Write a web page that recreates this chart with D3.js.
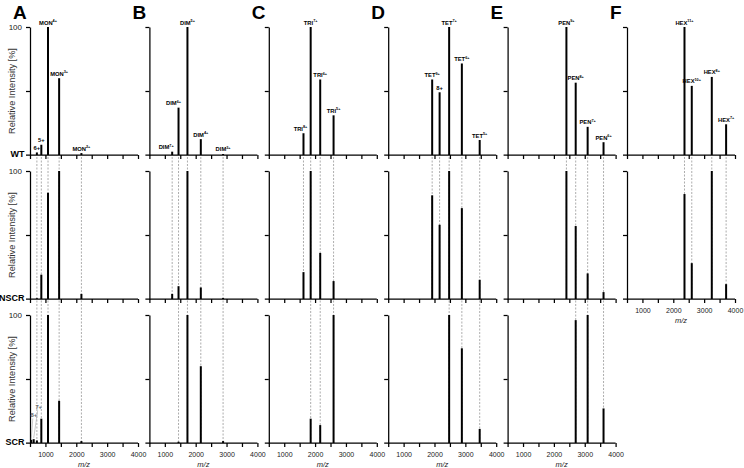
<!DOCTYPE html>
<html>
<head>
<meta charset="utf-8">
<script src="https://cdnjs.cloudflare.com/ajax/libs/d3/7.8.5/d3.min.js"></script>
<style>
  body { margin: 0; background: #fff; }
  svg { font-family: "Liberation Sans", Arial, sans-serif; }
</style>
</head>
<body>
<div id="chart"></div>
<script>
// peak positions (m/z) and relative intensities per sample
const rowNames = ['WT', 'NSCR', 'SCR']
const mzTicks = [500, 1000, 1500, 2000, 2500, 3000, 3500, 4000]

const monLabels = ['8+', '7+', '6+', '5+', 'MON|4+', 'MON|3+', 'MON|2+']
const monMz = [542, 620, 723, 867, 1084, 1444, 2166]
const monWT = [0, 0, 2, 8, 100, 60, 1.5]
const monNSCR = [0, 0, 0.6, 19, 83, 100, 4]
const monSCR = [2.5, 3, 2, 19, 100, 33, 1.5]

const dimLabels = ['DIM|7+', 'DIM|6+', 'DIM|5+', 'DIM|4+', 'DIM|3+']
const dimMz = [1238, 1444, 1733, 2166, 2888]
const dimWT = [2.6, 37, 100, 12.4, 0.8]
const dimNSCR = [4, 10, 100, 9, 0.8]
const dimSCR = [0, 1, 100, 60, 1.5]

const triLabels = ['TRI|8+', 'TRI|7+', 'TRI|6+', 'TRI|5+']
const triMz = [1624, 1857, 2166, 2599]
const triWT = [17, 100, 59, 31]
const triNSCR = [21, 100, 36, 14]
const triSCR = [0, 19, 14, 100]

const tetLabels = ['TET|9+', '8+', 'TET|7+', 'TET|6+', 'TET|5+']
const tetMz = [1925, 2166, 2475, 2887, 3465]
const tetWT = [59, 49, 100, 71.5, 11.7]
const tetNSCR = [81, 58, 100, 71, 15]
const tetSCR = [0, 0, 100, 74, 11]

const penLabels = ['PEN|9+', 'PEN|8+', 'PEN|7+', 'PEN|6+']
const penMz = [2406, 2707, 3094, 3609]
const penWT = [100, 56.5, 22, 10]
const penNSCR = [100, 57, 20, 5.4]
const penSCR = [0, 96, 100, 27]

const hexLabels = ['HEX|11+', 'HEX|10+', 'HEX|8+', 'HEX|7+']
const hexMz = [2363, 2599, 3248, 3712]
const hexWT = [100, 54, 61, 24]
const hexNSCR = [82, 28, 100, 11.6]

// grey side notes on the SCR monomer panel
const scrNotes = ['8+', '7+']

const panels = [
  {letter: 'A', labels: monLabels, mz: monMz, rows: [monWT, monNSCR, monSCR]},
  {letter: 'B', labels: dimLabels, mz: dimMz, rows: [dimWT, dimNSCR, dimSCR]},
  {letter: 'C', labels: triLabels, mz: triMz, rows: [triWT, triNSCR, triSCR]},
  {letter: 'D', labels: tetLabels, mz: tetMz, rows: [tetWT, tetNSCR, tetSCR]},
  {letter: 'E', labels: penLabels, mz: penMz, rows: [penWT, penNSCR, penSCR]},
  {letter: 'F', labels: hexLabels, mz: hexMz, rows: [hexWT, hexNSCR]},
]

var width = 744, height = 468
var panelX0 = 30, panelDX = 119.4, panelW = 108
var rowY0 = 27, rowDY = 144, rowH = 128

var svg = d3.select('#chart').append('svg').attr('width', width).attr('height', height)

var x = d3.scaleLinear().domain([500, 4000]).range([0, panelW])
var y = d3.scaleLinear().domain([0, 100]).range([rowH, 0])

// small nudges so crowded labels don't sit on the neighbouring bar
var nudge = {'B0': -6, 'B1': -5, 'C0': -3}

panels.forEach((p, pi) => {
  var L = panelX0 + pi * panelDX
  var nRows = p.rows.length

  svg.append('text').attr('x', L - 17).attr('y', 18.5)
    .attr('font-size', 19).attr('font-weight', 'bold').text(p.letter)

  // dashed guide lines from the WT row down to the last row that has the peak
  var guides = svg.append('g').attr('transform', `translate(${L},0)`)
  p.mz.forEach((m, k) => {
    if (p.rows[0][k] <= 0) return
    var last = 0
    p.rows.forEach((r, ri) => { if (r[k] > 0) last = ri })
    if (last == 0) return
    guides.append('line')
      .attr('x1', x(m)).attr('x2', x(m))
      .attr('y1', rowY0 + rowH + 2).attr('y2', rowY0 + last * rowDY + rowH)
      .attr('stroke', '#8a8a8a').attr('stroke-width', 0.7).attr('stroke-dasharray', '2,1.5')
  })

  p.rows.forEach((vals, ri) => {
    var top = rowY0 + ri * rowDY
    var g = svg.append('g').attr('transform', `translate(${L},${top})`)

    g.selectAll('line.bar').data(p.mz.map((m, k) => ({m: m, v: vals[k]})).filter(d => d.v > 0))
      .enter().append('line').attr('class', 'bar')
      .attr('x1', d => x(d.m)).attr('x2', d => x(d.m))
      .attr('y1', y(0)).attr('y2', d => y(d.v))
      .attr('stroke', '#000').attr('stroke-width', 2)

    var labelled = (ri == nRows - 1) && (pi == 5 || ri == 2)
    var xAxis = d3.axisBottom(x).tickValues(mzTicks).tickSize(4).tickSizeOuter(0)
      .tickFormat(d => labelled && d % 1000 == 0 ? d : '')
    var xg = g.append('g').attr('transform', `translate(0,${rowH})`).call(xAxis)
    xg.select('.domain').attr('d', `M-4,0H${panelW}`)
    xg.selectAll('text').attr('font-size', 7).attr('font-family', null).attr('fill', '#222').attr('dy', '0.95em')

    var yAxis = d3.axisLeft(y).tickValues([50, 100]).tickSize(4).tickSizeOuter(0)
      .tickFormat(d => pi == 0 && d == 100 ? d : '')
    var yg = g.append('g').call(yAxis)
    yg.selectAll('text').attr('font-size', 8).attr('font-family', null).attr('fill', '#222').attr('x', -8)

    svg.selectAll('.domain, .tick line').attr('stroke', '#000').attr('stroke-width', 1.25)

    if (labelled) {
      g.append('text').attr('x', panelW / 2).attr('y', rowH + 24)
        .attr('text-anchor', 'middle').attr('font-size', 7.5).attr('font-style', 'italic')
        .attr('fill', '#222').text('m/z')
    }

    if (pi == 0) {
      svg.append('text').attr('x', 24.5).attr('y', top + rowH + 2)
        .attr('text-anchor', 'end').attr('font-size', 9).attr('font-weight', 'bold')
        .text(rowNames[ri])
      svg.append('text')
        .attr('transform', `translate(15,${top + rowH / 2}) rotate(-90)`)
        .attr('text-anchor', 'middle').attr('font-size', 9.2).attr('fill', '#333')
        .text('Relative Intensity [%]')
    }

    // peak labels on the WT row
    if (ri == 0) {
      p.mz.forEach((m, k) => {
        if (vals[k] <= 0) return
        var parts = p.labels[k].split('|')
        var t = g.append('text')
          .attr('x', x(m) + (nudge[p.letter + k] || 0)).attr('y', y(vals[k]) - 2.5)
          .attr('text-anchor', 'middle').attr('font-size', 5.8).attr('font-weight', 'bold')
        if (parts.length == 1) {
          t.text(parts[0])
        } else {
          t.append('tspan').text(parts[0])
          t.append('tspan').attr('dy', -2.4).attr('font-size', 3.8).text(parts[1])
        }
      })
    }

    // grey notes with leader lines for the small monomer peaks in SCR
    if (pi == 0 && ri == 2) {
      scrNotes.forEach((s, k) => {
        var bx = x(p.mz[k])
        var ly = rowH - 26 - k * 8
        var lx = bx + 2.5 + k * 2.5
        g.append('text').attr('x', lx).attr('y', ly)
          .attr('text-anchor', 'middle').attr('font-size', 5.8).attr('font-weight', 'bold')
          .attr('fill', '#666').text(s)
        g.append('line').attr('x1', lx - 1).attr('x2', bx)
          .attr('y1', ly + 1.5).attr('y2', y(vals[k]) - 1)
          .attr('stroke', '#999').attr('stroke-width', 0.5)
      })
    }
  })
})
</script>
</body>
</html>
